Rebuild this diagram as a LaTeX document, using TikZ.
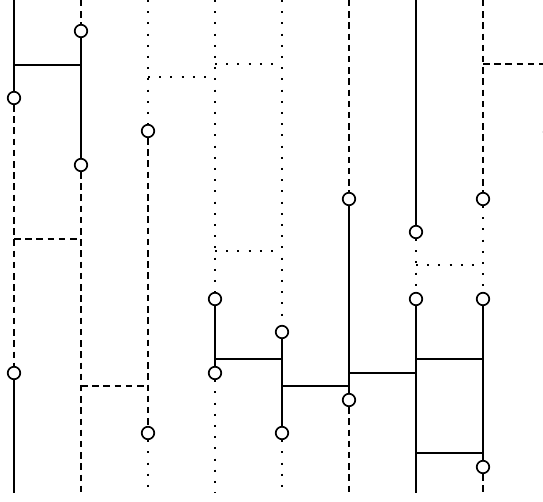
\documentclass[tikz,border=0pt]{standalone}
\usepackage{tikz}
\usetikzlibrary{positioning,calc}

\begin{document}
\begin{tikzpicture}[x=1pt, y=-1pt, line width=1.9pt,
  sw/.style={line width=1.9pt},
  dw/.style={line width=1.9pt, dash pattern=on 6.5pt off 4.7pt},
  pw/.style={line width=2pt, dash pattern=on 2pt off 9.2pt},
  ring/.style={draw, circle, fill=white, inner sep=0pt, minimum size=12.5pt, line width=1.7pt}]
\useasboundingbox (0,0) rectangle (543,502);
\clip (0,0) rectangle (543,502);
% wire ends
\foreach \i/\x in {1/14,2/81,3/148,4/215,5/282,6/349,7/416,8/483,9/550} {
  \coordinate (t\i) at (\x,0);
  \coordinate (b\i) at (\x,493);
}
% rings
\node[ring] (c1a) at (14,98) {};
\node[ring] (c1b) at (14,373) {};
\node[ring] (c2a) at (81,31) {};
\node[ring] (c2b) at (81,165) {};
\node[ring] (c3a) at (148,131) {};
\node[ring] (c3b) at (148,433) {};
\node[ring] (c4a) at (215,299) {};
\node[ring] (c4b) at (215,373) {};
\node[ring] (c5a) at (282,332) {};
\node[ring] (c5b) at (282,433) {};
\node[ring] (c6a) at (349,199) {};
\node[ring] (c6b) at (349,400) {};
\node[ring] (c7a) at (416,232) {};
\node[ring] (c7b) at (416,299) {};
\node[ring] (c8a) at (483,199) {};
\node[ring] (c8b) at (483,299) {};
\node[ring] (c8c) at (483,467) {};
\node[ring] (c9) at (550,132) {};
% rung ends
\coordinate (s1l) at (14,65);   \coordinate (s1r) at (81,65);
\coordinate (d1l) at (14,239);  \coordinate (d1r) at (81,239);
\coordinate (d2l) at (81,386);  \coordinate (d2r) at (148,386);
\coordinate (p1l) at (148,77);  \coordinate (p1r) at (215,77);
\coordinate (p2l) at (215,64);  \coordinate (p2r) at (282,64);
\coordinate (p3l) at (215,251); \coordinate (p3r) at (282,251);
\coordinate (s2l) at (215,359); \coordinate (s2r) at (282,359);
\coordinate (s3l) at (282,386); \coordinate (s3r) at (349,386);
\coordinate (s4l) at (349,373); \coordinate (s4r) at (416,373);
\coordinate (p4l) at (416,265); \coordinate (p4r) at (483,265);
\coordinate (s5l) at (416,359); \coordinate (s5r) at (483,359);
\coordinate (s6l) at (416,453); \coordinate (s6r) at (483,453);
\coordinate (d3l) at (483,64);  \coordinate (d3r) at (550,64);
% wires
\draw[sw] (t1) -- (c1a); \draw[dw] (c1a) -- (c1b); \draw[sw] (c1b) -- (b1);
\draw[dw] (t2) -- (c2a); \draw[sw] (c2a) -- (c2b); \draw[dw] (c2b) -- (b2);
\draw[pw] (t3) -- (c3a); \draw[dw] (c3a) -- (c3b); \draw[pw] (c3b) -- (b3);
\draw[pw] (t4) -- (c4a); \draw[sw] (c4a) -- (c4b); \draw[pw] (c4b) -- (b4);
\draw[pw] (t5) -- (c5a); \draw[sw] (c5a) -- (c5b); \draw[pw] (c5b) -- (b5);
\draw[dw] (t6) -- (c6a); \draw[sw] (c6a) -- (c6b); \draw[dw] (c6b) -- (b6);
\draw[sw] (t7) -- (c7a); \draw[pw] (c7a) -- (c7b); \draw[sw] (c7b) -- (b7);
\draw[dw] (t8) -- (c8a); \draw[pw] (c8a) -- (c8b); \draw[sw] (c8b) -- (c8c);
\draw[dw] (c8c) -- (b8);
% rungs
\foreach \r in {s1,s2,s3,s4,s5,s6} \draw[sw] (\r l) -- (\r r);
\foreach \r in {d1,d2,d3} \draw[dw] (\r l) -- (\r r);
\foreach \r in {p1,p2,p3,p4} \draw[pw] (\r l) -- (\r r);
\end{tikzpicture}
\end{document}
